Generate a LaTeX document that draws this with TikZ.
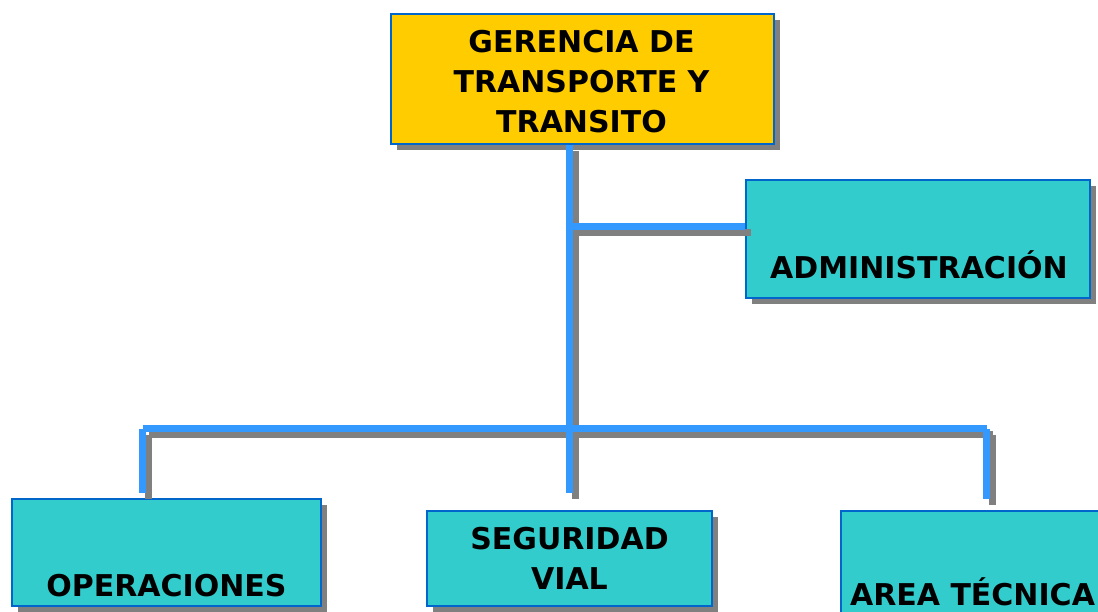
\documentclass[tikz,border=0pt]{standalone}
\usepackage{fontspec}
\setmainfont{DejaVu Sans}
\usepackage{tikz}
\usetikzlibrary{shadows,positioning}
\usepackage{xcolor}
\definecolor{gerenciayellow}{HTML}{FFCC00}
\definecolor{areateal}{HTML}{33CCCC}
\definecolor{edgeblue}{HTML}{0066CC}
\definecolor{linkblue}{HTML}{3399FF}
\definecolor{shadowgray}{HTML}{808080}

\begin{document}
\begin{tikzpicture}[x=1pt,y=-1pt,
    area/.style={draw=edgeblue,line width=1.5pt,fill=areateal,
      drop shadow={shadow xshift=6pt,shadow yshift=-6pt,fill=shadowgray,opacity=1}},
    area text/.style={font=\fontsize{30}{40}\selectfont\bfseries,align=center,inner sep=0pt},
    link/.style={line width=7.5pt}]
      \useasboundingbox (0,0) rectangle (1098,611);
      \clip (0,0) rectangle (1098,611);
      \node[area,fill=gerenciayellow,minimum width=383pt,minimum height=130pt] (gerencia) at (582.5,79) {};
      \node[area,minimum width=344pt,minimum height=118pt] (admin) at (918,239) {};
      \node[area,minimum width=309pt,minimum height=107pt] (oper) at (166.5,552.5) {};
      \node[area,minimum width=285pt,minimum height=95pt] (seg) at (569.5,558.5) {};
      \node[area,minimum width=263pt,minimum height=119pt] (tecnica) at (972.5,570.5) {};
      \node[area text] (gerencia text) at (581.5,82) {GERENCIA DE\\TRANSPORTE Y\\TRANSITO};
      \node[area text] (admin text) at (919,265) {ADMINISTRACIÓN};
      \node[area text] (oper text) at (166.5,586) {OPERACIONES};
      \node[area text] (seg text) at (569.5,558) {SEGURIDAD\\VIAL};
      \node[area text] (tecnica text) at (972.5,592) {AREA TÉCNICA};
      \coordinate (admin joint) at (569.5,226.5);
      \coordinate (bus) at (569.5,428.5);
      \coordinate (bus left) at (142.5,428.5);
      \coordinate (bus right) at (986.5,428.5);
      \coordinate (oper top) at (142.5,493);
      \coordinate (seg top) at (569.5,493);
      \coordinate (tecnica top) at (986.5,499);
      \foreach \tone/\off in {shadowgray/6,linkblue/0}{
        \begin{scope}[transform canvas={shift={(\off pt,-\off pt)}},link,color=\tone]
          \draw (gerencia.south -| bus) -- (bus);
          \draw (admin joint) -- (admin joint -| admin.west);
          \draw (bus left) -- (bus right);
          \draw (bus left) -- (oper top);
          \draw (bus) -- (seg top);
          \draw (bus right) -- (tecnica top);
        \end{scope}
      }
    \end{tikzpicture}
\end{document}
